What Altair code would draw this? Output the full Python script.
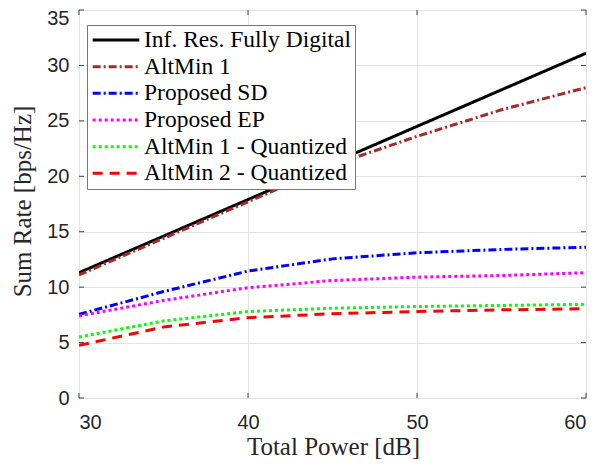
import altair as alt
import pandas as pd

power_db = [30, 35, 40, 45, 50, 55, 60]
series_names = [
    "Inf. Res. Fully Digital",
    "AltMin 1",
    "Proposed SD",
    "Proposed EP",
    "AltMin 1 - Quantized",
    "AltMin 2 - Quantized",
]
fully_digital = [11.3, 14.6, 17.9, 21.2, 24.5, 27.8, 31.1]
altmin1 = [11.1, 14.4, 17.7, 21.0, 23.6, 26.0, 28.0]
proposed_sd = [7.55, 9.6, 11.45, 12.55, 13.1, 13.4, 13.6]
proposed_ep = [7.4, 8.8, 9.95, 10.6, 10.9, 11.05, 11.3]
altmin1_q = [5.5, 6.95, 7.8, 8.1, 8.25, 8.35, 8.45]
altmin2_q = [4.75, 6.4, 7.25, 7.6, 7.8, 7.95, 8.05]

colors = ["#000000", "#A52A2A", "#0000FF", "#FF00FF", "#00FF00", "#FF0000"]
dashes = [[1, 0], [8, 3, 2, 3], [8, 3, 2, 3], [3, 3], [3, 3], [10, 7]]

x_ticks = [30, 40, 50, 60]
y_ticks = [0, 5, 10, 15, 20, 25, 30, 35]

values = [fully_digital, altmin1, proposed_sd, proposed_ep, altmin1_q, altmin2_q]
rows = []
for name, vals in zip(series_names, values):
    for x, v in zip(power_db, vals):
        rows.append({"power": x, "rate": v, "series": name})
df = pd.DataFrame(rows)

W, H = 507, 388
xscale = alt.Scale(domain=[30, 60], nice=False)
yscale = alt.Scale(domain=[0, 35], nice=False)

lines = alt.Chart(df).mark_line(strokeWidth=3, clip=True).encode(
    x=alt.X("power:Q", scale=xscale,
            axis=alt.Axis(values=x_ticks, title="Total Power [dB]", grid=True,
                          tickSize=0, labelPadding=14, domain=False,
                          titleX=254, titleY=48, titleBaseline="middle",
                          titleAlign="center", titleAnchor="start")),
    y=alt.Y("rate:Q", scale=yscale,
            axis=alt.Axis(values=y_ticks, title="Sum Rate [bps/Hz]", grid=True,
                          tickSize=0, labelPadding=10, domain=False,
                          labelOffset={"condition": {"test": "datum.value == 35", "value": 8}, "value": 0},
                          titleX=-57, titleY=191, titleAngle=-90,
                          titleBaseline="middle", titleAlign="center",
                          titleAnchor="start")),
    color=alt.Color("series:N", scale=alt.Scale(domain=series_names, range=colors),
                    sort=series_names,
                    legend=alt.Legend(title=None, orient="none", legendX=8, legendY=15,
                                      symbolType="stroke", symbolSize=2180,
                                      symbolStrokeWidth=3, labelOffset=3,
                                      clipHeight=22, rowPadding=2.67, padding=4,
                                      fillColor="white", strokeColor="#777777",
                                      labelFont="Liberation Serif", labelFontSize=23.5,
                                      labelColor="#000000", labelLimit=400)),
    strokeDash=alt.StrokeDash("series:N",
                              scale=alt.Scale(domain=series_names, range=dashes),
                              sort=series_names, legend=None),
    order=alt.Order("series_idx:Q"),
).transform_calculate(
    series_idx="indexof(" + str(series_names) + ", datum.series)"
)

tick_df = pd.DataFrame({"y": y_ticks})
xtick_df = pd.DataFrame({"x": x_ticks})
left_ticks = alt.Chart(tick_df).mark_rule(color="#444444", strokeWidth=1).encode(
    y=alt.Y("y:Q", scale=yscale), x=alt.value(0), x2=alt.value(5))
right_ticks = alt.Chart(tick_df).mark_rule(color="#444444", strokeWidth=1).encode(
    y=alt.Y("y:Q", scale=yscale), x=alt.value(W - 5), x2=alt.value(W))
bottom_ticks = alt.Chart(xtick_df).mark_rule(color="#444444", strokeWidth=1).encode(
    x=alt.X("x:Q", scale=xscale), y=alt.value(H - 5), y2=alt.value(H))
top_ticks = alt.Chart(xtick_df).mark_rule(color="#444444", strokeWidth=1).encode(
    x=alt.X("x:Q", scale=xscale), y=alt.value(0), y2=alt.value(5))

chart = alt.layer(left_ticks, right_ticks, bottom_ticks, top_ticks, lines).properties(
    width=W, height=H,
    background="white",
    autosize=alt.AutoSizeParams(type="none"),
    padding={"left": 71, "top": 2, "right": 14, "bottom": 66},
).configure_view(
    stroke="#555555", strokeWidth=1
).configure_axis(
    labelFont="Liberation Sans", labelFontSize=20, labelColor="#262626",
    titleFont="Liberation Serif", titleFontSize=25, titleFontWeight="normal",
    titleColor="#262626", gridColor="#E3E3E3", gridWidth=1,
)

chart.save("out.html", embed_options={"renderer": "svg", "actions": False})
